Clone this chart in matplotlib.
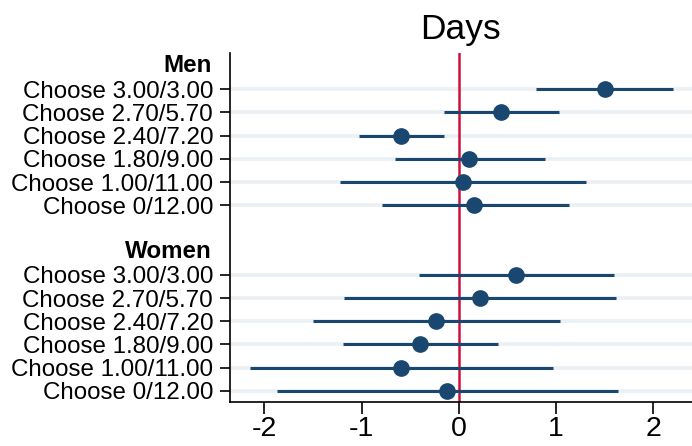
import matplotlib
matplotlib.use("Agg")
import matplotlib.pyplot as plt
import matplotlib.transforms as mtransforms

plt.rcParams['font.family'] = ['Liberation Sans', 'DejaVu Sans']

labels = ["Choose 3.00/3.00", "Choose 2.70/5.70", "Choose 2.40/7.20",
          "Choose 1.80/9.00", "Choose 1.00/11.00", "Choose 0/12.00"]
groups = ["Men", "Women"]

men_coef = [1.505, 0.435, -0.59, 0.11, 0.04, 0.16]
men_lo = [0.80, -0.15, -1.03, -0.66, -1.22, -0.79]
men_hi = [2.20, 1.03, -0.15, 0.885, 1.31, 1.13]

women_coef = [0.59, 0.22, -0.23, -0.40, -0.59, -0.12]
women_lo = [-0.41, -1.18, -1.50, -1.19, -2.15, -1.87]
women_hi = [1.595, 1.62, 1.04, 0.40, 0.97, 1.64]

navy = "#1a476f"
grid_col = "#eaf0f3"

fig = plt.figure(figsize=(6.92, 4.46), dpi=100)
ax = fig.add_axes([0.3324, 0.0987, 0.6676, 0.7825])

series = [(men_coef, men_lo, men_hi), (women_coef, women_lo, women_hi)]
ticks = []
ticklabels = []
header_pos = []
start = 0
for g, (coef, lo, hi) in zip(groups, series):
    header_pos.append((start, g))
    rows = [start + 1 + i for i in range(len(labels))]
    for y in rows:
        ax.axhline(y, color=grid_col, lw=2.6, zorder=0)
    ax.hlines(rows, lo, hi, color=navy, lw=2.2, zorder=3)
    ax.plot(coef, rows, 'o', color=navy, markersize=11, zorder=4)
    ticks += rows
    ticklabels += labels
    start += len(labels) + 2

ax.axvline(0, color="#d0103a", lw=1.8, zorder=2)

ax.set_yticks(ticks)
ax.set_yticklabels(ticklabels, fontsize=17.4)
trans = mtransforms.blended_transform_factory(ax.transAxes, ax.transData)
for y, g in header_pos:
    ax.text(-0.039, y, g, transform=trans, ha='right', va='center',
            fontsize=17.4, fontweight='bold')

ax.set_xticks([-2, -1, 0, 1, 2])
ax.set_xticklabels(["-2", "-1", "0", "1", "2"], fontsize=20.5)
ax.set_xlim(-2.353, 2.40)
ax.set_ylim(14.48, -0.56)

ax.tick_params(axis='y', length=7.2, width=1.2, pad=5)
ax.tick_params(axis='x', length=8.6, width=1.2, pad=1.5)
for s in ['top', 'right']:
    ax.spines[s].set_visible(False)
for s in ['left', 'bottom']:
    ax.spines[s].set_linewidth(1.2)

fig.text(0.666, 0.933, "Days", ha='center', va='center', fontsize=25.5)

fig.savefig("out.png", dpi=100)
